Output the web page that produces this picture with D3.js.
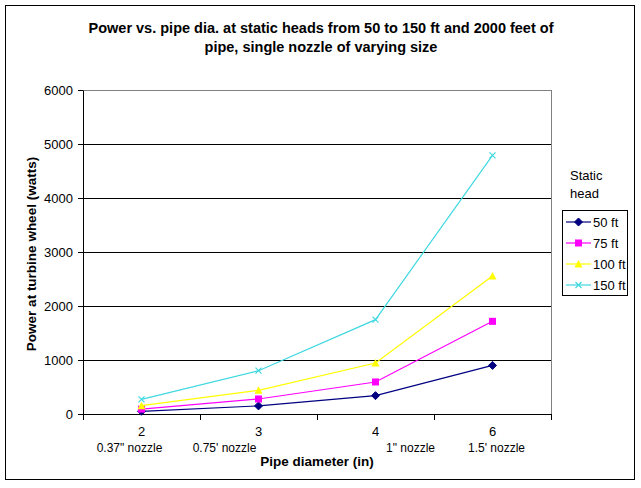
<!DOCTYPE html>
<html>
<head>
<meta charset="utf-8">
<script src="https://cdn.jsdelivr.net/npm/d3@7"></script>
<style>
  body { margin: 0; background: #fff; }
  svg { display: block; font-family: Arial, "Liberation Sans", sans-serif; }
</style>
</head>
<body>
<svg id="chart" width="641" height="488"></svg>
<script>
const categories = ["2", "3", "4", "6"];
const nozzleLabels = ["0.37\" nozzle", "0.75' nozzle", "1\" nozzle", "1.5' nozzle"];
const seriesNames = ["50 ft", "75 ft", "100 ft", "150 ft"];
const values50 = [50, 150, 340, 900];
const values75 = [90, 278, 593, 1716];
const values100 = [155, 438, 944, 2555];
const values150 = [272, 802, 1747, 4790];
const yTicks = [0, 1000, 2000, 3000, 4000, 5000, 6000];

const seriesValues = [values50, values75, values100, values150];
const colors = ["#000080", "#FF00FF", "#FFFF00", "#40D8E0"];
const markerTypes = ["diamond", "square", "triangle", "x"];

const svg = d3.select("#chart");
const margin = { left: 83, top: 90 };
const plotW = 551 - 83, plotH = 414 - 90;
const FONT = "Arial, 'Liberation Sans', sans-serif";

// outer frame
svg.append("rect").attr("x", 5.5).attr("y", 5.5).attr("width", 629).attr("height", 474)
  .attr("fill", "#fff").attr("stroke", "#000").attr("stroke-width", 1);

// title
const title = svg.append("text").attr("text-anchor", "middle")
  .attr("font-weight", "bold").attr("font-size", 14.5).attr("fill", "#000");
title.append("tspan").attr("x", 321).attr("y", 33).text("Power vs. pipe dia. at static heads from 50 to 150 ft and 2000 feet of");
title.append("tspan").attr("x", 321).attr("y", 52).text("pipe, single nozzle of varying size");

const g = svg.append("g").attr("transform", `translate(${margin.left},${margin.top})`);

const x = d3.scaleBand().domain(categories).range([0, plotW]).padding(0);
const y = d3.scaleLinear().domain([0, 6000]).range([plotH, 0]);

// plot area background & border (gray top/right)
g.append("rect").attr("x", 0.5).attr("y", 0.5).attr("width", plotW).attr("height", plotH)
  .attr("fill", "#fff").attr("stroke", "#808080").attr("stroke-width", 1);

// gridlines
g.append("g").selectAll("line").data(yTicks.filter(d => d > 0 && d < 6000)).join("line")
  .attr("x1", 0).attr("x2", plotW)
  .attr("y1", d => Math.round(y(d)) + 0.5).attr("y2", d => Math.round(y(d)) + 0.5)
  .attr("stroke", "#000").attr("stroke-width", 1);

// y axis
const yAxis = g.append("g")
  .call(d3.axisLeft(y).tickValues(yTicks).tickSize(5).tickSizeOuter(0).tickPadding(5).tickFormat(d3.format("d")));
yAxis.select(".domain").attr("stroke", "#000");
yAxis.selectAll("text").attr("font-size", 13).attr("fill", "#000").attr("font-family", FONT);

// x axis
const xAxis = g.append("g").attr("transform", `translate(0,${plotH})`)
  .call(d3.axisBottom(x).tickSize(0).tickPadding(13));
xAxis.select(".domain").attr("stroke", "#000");
xAxis.selectAll("text").attr("font-size", 13).attr("fill", "#000").attr("font-family", FONT);
// tick marks at category boundaries
const bounds = categories.map(c => x(c)).concat([plotW]);
xAxis.selectAll(".bound").data(bounds).join("line").attr("class", "bound")
  .attr("x1", d => d + 0.5).attr("x2", d => d + 0.5).attr("y1", 0).attr("y2", 6).attr("stroke", "#000");

// nozzle labels
const nozzleOffsets = [-12, -34, 35, 4];
g.append("g").selectAll("text").data(nozzleLabels).join("text")
  .attr("x", (d, i) => x(categories[i]) + x.bandwidth() / 2 + nozzleOffsets[i])
  .attr("y", plotH + 38).attr("text-anchor", "middle").attr("font-size", 12).attr("fill", "#000")
  .text(d => d);

// axis titles
svg.append("text").attr("x", 317).attr("y", 466).attr("text-anchor", "middle")
  .attr("font-weight", "bold").attr("font-size", 13.5).text("Pipe diameter (in)");
svg.append("text").attr("transform", "translate(36,254) rotate(-90)").attr("text-anchor", "middle")
  .attr("font-weight", "bold").attr("font-size", 13.5).text("Power at turbine wheel (watts)");

// marker drawing
function drawMarker(sel, type, color) {
  if (type === "diamond") {
    sel.append("path").attr("d", "M0,-4L4,0L0,4L-4,0Z").attr("fill", color).attr("stroke", color);
  } else if (type === "square") {
    sel.append("rect").attr("x", -3.5).attr("y", -3.5).attr("width", 7).attr("height", 7).attr("fill", color);
  } else if (type === "triangle") {
    sel.append("path").attr("d", "M0,-4L4,3.5L-4,3.5Z").attr("fill", color);
  } else {
    sel.append("path").attr("d", "M-3,-3L3,3M-3,3L3,-3").attr("stroke", color).attr("stroke-width", 1.2).attr("fill", "none");
  }
}

const line = d3.line().x((d, i) => x(categories[i]) + x.bandwidth() / 2).y(d => y(d));

seriesValues.forEach((vals, si) => {
  g.append("path").datum(vals).attr("d", line).attr("fill", "none")
    .attr("stroke", colors[si]).attr("stroke-width", 1.2);
  vals.forEach((v, i) => {
    const m = g.append("g").attr("transform", `translate(${x(categories[i]) + x.bandwidth() / 2},${y(v)})`);
    drawMarker(m, markerTypes[si], colors[si]);
  });
});

// legend
svg.append("text").attr("x", 570).attr("y", 180).attr("font-size", 13).text("Static");
svg.append("text").attr("x", 570).attr("y", 198).attr("font-size", 13).text("head");
const legend = svg.append("g");
legend.append("rect").attr("x", 562.5).attr("y", 210.5).attr("width", 65).attr("height", 85)
  .attr("fill", "#fff").attr("stroke", "#000");
seriesNames.forEach((name, si) => {
  const ly = 222 + si * 21;
  legend.append("line").attr("x1", 566).attr("x2", 591).attr("y1", ly).attr("y2", ly)
    .attr("stroke", colors[si]).attr("stroke-width", 1.2);
  const m = legend.append("g").attr("transform", `translate(578.5,${ly})`);
  drawMarker(m, markerTypes[si], colors[si]);
  legend.append("text").attr("x", 593).attr("y", ly + 4.5).attr("font-size", 13).text(name);
});
</script>
</body>
</html>
